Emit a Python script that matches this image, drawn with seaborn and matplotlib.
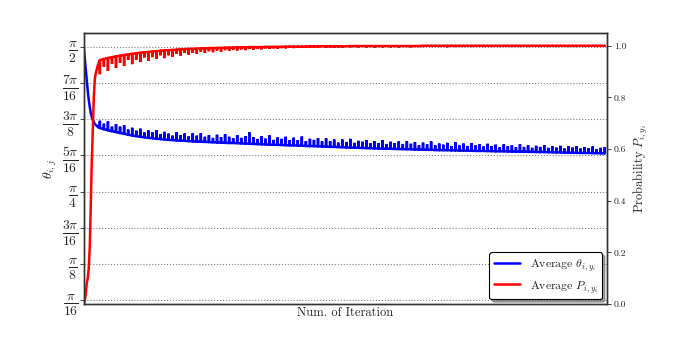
import numpy as np
import matplotlib
matplotlib.use('Agg')
import matplotlib.pyplot as plt
import seaborn as sns

# first iterations (one value per iteration)
theta_head = [1.571, 1.511, 1.446, 1.386, 1.332, 1.283, 1.245, 1.212,
              1.190, 1.174, 1.163, 1.152, 1.147, 1.142, 1.136, 1.133]
prob_head = [0.0, 0.01, 0.04, 0.08, 0.10, 0.14, 0.22, 0.38,
             0.55, 0.68, 0.80, 0.87, 0.895, 0.91, 0.925, 0.935]

# later iterations: baseline value and spike value every 4 iterations
theta_base = [1.130, 1.124, 1.118, 1.113, 1.108, 1.103, 1.099, 1.094, 1.090, 1.086,
              1.083, 1.080, 1.077, 1.075, 1.072, 1.070, 1.068, 1.066, 1.065, 1.063,
              1.062, 1.061, 1.059, 1.058, 1.057, 1.056, 1.055, 1.054, 1.053, 1.052,
              1.051, 1.050, 1.049, 1.049, 1.048, 1.047, 1.046, 1.045, 1.044, 1.043,
              1.042, 1.041, 1.040, 1.040, 1.039, 1.038, 1.037, 1.036, 1.036, 1.035,
              1.034, 1.033, 1.032, 1.032, 1.031, 1.030, 1.029, 1.028, 1.028, 1.027,
              1.026, 1.025, 1.024, 1.024, 1.023, 1.022, 1.021, 1.021, 1.020, 1.019,
              1.019, 1.018, 1.018, 1.017, 1.016, 1.016, 1.015, 1.015, 1.014, 1.013,
              1.013, 1.012, 1.012, 1.011, 1.010, 1.010, 1.010, 1.009, 1.009, 1.008,
              1.008, 1.007, 1.007, 1.006, 1.006, 1.006, 1.005, 1.005, 1.004, 1.004,
              1.004, 1.003, 1.003, 1.002, 1.002, 1.002, 1.001, 1.001, 1.000, 1.000,
              1.000, 0.999, 0.999, 0.998, 0.998, 0.997, 0.997, 0.996, 0.996, 0.995,
              0.995, 0.995, 0.994, 0.994, 0.993, 0.993]
theta_peak = [1.170, 1.154, 1.166, 1.138, 1.152, 1.138, 1.145, 1.122, 1.132, 1.116,
              1.127, 1.106, 1.117, 1.107, 1.118, 1.098, 1.110, 1.100, 1.089, 1.108,
              1.092, 1.101, 1.085, 1.102, 1.089, 1.102, 1.083, 1.092, 1.077, 1.094,
              1.081, 1.098, 1.083, 1.075, 1.092, 1.077, 1.086, 1.107, 1.080, 1.071,
              1.086, 1.073, 1.090, 1.066, 1.079, 1.072, 1.083, 1.064, 1.078, 1.065,
              1.084, 1.059, 1.072, 1.066, 1.075, 1.058, 1.075, 1.060, 1.068, 1.051,
              1.068, 1.055, 1.072, 1.050, 1.061, 1.056, 1.065, 1.049, 1.060, 1.049,
              1.065, 1.044, 1.056, 1.049, 1.058, 1.044, 1.059, 1.045, 1.054, 1.037,
              1.051, 1.042, 1.058, 1.037, 1.046, 1.040, 1.050, 1.033, 1.053, 1.036,
              1.046, 1.033, 1.049, 1.036, 1.042, 1.030, 1.045, 1.033, 1.040, 1.026,
              1.042, 1.031, 1.037, 1.026, 1.042, 1.028, 1.037, 1.023, 1.034, 1.028,
              1.038, 1.023, 1.031, 1.024, 1.034, 1.019, 1.031, 1.024, 1.032, 1.019,
              1.027, 1.021, 1.030, 1.016, 1.023, 1.027]
prob_base = [0.945, 0.949, 0.953, 0.956, 0.959, 0.962, 0.964, 0.967, 0.969, 0.971,
             0.973, 0.975, 0.976, 0.978, 0.979, 0.981, 0.982, 0.983, 0.984, 0.985,
             0.986, 0.987, 0.988, 0.988, 0.989, 0.990, 0.990, 0.991, 0.991, 0.992,
             0.992, 0.993, 0.993, 0.993, 0.994, 0.994, 0.994, 0.995, 0.995, 0.995,
             0.995, 0.996, 0.996, 0.996, 0.996, 0.996, 0.997, 0.997, 0.997, 0.997,
             0.997, 0.997, 0.998, 0.998, 0.998, 0.998, 0.998, 0.998, 0.998, 0.998,
             0.998, 0.998, 0.999, 0.999, 0.999, 0.999, 0.999, 0.999, 0.999, 0.999,
             0.999, 0.999, 0.999, 0.999, 0.999, 0.999, 0.999, 0.999, 0.999, 0.999,
             1.000, 1.000, 1.000, 1.000, 1.000, 1.000, 1.000, 1.000, 1.000, 1.000,
             1.000, 1.000, 1.000, 1.000, 1.000, 1.000, 1.000, 1.000, 1.000, 1.000,
             1.000, 1.000, 1.000, 1.000, 1.000, 1.000, 1.000, 1.000, 1.000, 1.000,
             1.000, 1.000, 1.000, 1.000, 1.000, 1.000, 1.000, 1.000, 1.000, 1.000,
             1.000, 1.000, 1.000, 1.000, 1.000, 1.000]
prob_dip = [0.890, 0.919, 0.903, 0.931, 0.914, 0.934, 0.922, 0.945, 0.929, 0.946,
            0.937, 0.955, 0.942, 0.956, 0.949, 0.963, 0.952, 0.963, 0.958, 0.969,
            0.962, 0.972, 0.966, 0.972, 0.969, 0.977, 0.972, 0.979, 0.975, 0.981,
            0.977, 0.983, 0.980, 0.984, 0.982, 0.986, 0.983, 0.988, 0.985, 0.988,
            0.986, 0.990, 0.988, 0.990, 0.989, 0.991, 0.990, 0.992, 0.991, 0.992,
            0.992, 0.993, 0.993, 0.994, 0.993, 0.995, 0.993, 0.994, 0.992, 0.994,
            0.993, 0.995, 0.994, 0.995, 0.994, 0.996, 0.994, 0.995, 0.993, 0.995,
            0.994, 0.996, 0.994, 0.995, 0.994, 0.996, 0.995, 0.994, 0.996, 0.995,
            0.995, 0.996, 0.995, 0.997, 0.995, 0.996, 0.994, 0.996, 0.995, 0.997,
            0.995, 0.996, 0.995, 0.997, 0.996, 0.995, 0.997, 0.995, 0.996, 0.995,
            0.997, 0.996, 0.995, 0.997, 0.995, 0.996, 0.995, 0.997, 0.996, 0.995,
            0.997, 0.995, 0.996, 0.995, 0.997, 0.996, 0.995, 0.997, 0.995, 0.996,
            0.995, 0.997, 0.996, 0.995, 0.997, 0.996]

theta_ticks = [np.pi/16, np.pi/8, 3*np.pi/16, np.pi/4, 5*np.pi/16, 3*np.pi/8, 7*np.pi/16, np.pi/2]
theta_labels = [r'$\frac{\pi}{16}$', r'$\frac{\pi}{8}$', r'$\frac{3\pi}{16}$', r'$\frac{\pi}{4}$',
                r'$\frac{5\pi}{16}$', r'$\frac{3\pi}{8}$', r'$\frac{7\pi}{16}$', r'$\frac{\pi}{2}$']
prob_ticks = [0.0, 0.2, 0.4, 0.6, 0.8, 1.0]


def build(head, base, spike):
    # each spike is a vertical excursion at a single iteration
    t = len(head) + 4*np.arange(len(base))
    xs = np.column_stack([t, t, t]).ravel()
    ys = np.column_stack([base, spike, base]).ravel()
    return np.concatenate([np.arange(len(head)), xs]), np.concatenate([head, ys])


x_theta, y_theta = build(theta_head, theta_base, theta_peak)
x_prob, y_prob = build(prob_head, prob_base, prob_dip)

sns.set_style('white')
plt.rcParams['font.family'] = ['cmr10', 'DejaVu Serif']
plt.rcParams['mathtext.fontset'] = 'cm'
plt.rcParams['axes.formatter.use_mathtext'] = True
plt.rcParams['axes.unicode_minus'] = False

fig = plt.figure(figsize=(6.75, 3.39), dpi=100)
ax = fig.add_axes([0.124, 0.103, 0.775, 0.800])
ax2 = ax.twinx()

sns.lineplot(x=x_theta, y=y_theta, ax=ax, color='#0000ff', lw=1.8, estimator=None, sort=False,
             solid_joinstyle='bevel', label=r'Average $\theta_{i,y_i}$', legend=False)
sns.lineplot(x=x_prob, y=y_prob, ax=ax2, color='#ff0000', lw=1.8, estimator=None, sort=False,
             solid_joinstyle='bevel', label=r'Average $P_{i,y_i}$', legend=False)

ax.set_xlim(0, 518)
ax.set_ylim(0.1746, 1.6469)
ax2.set_ylim(0, 1.05)
ax.set_yticks(theta_ticks)
ax.set_yticklabels(theta_labels, fontsize=14)
ax.set_xticks([])
ax2.set_yticks(prob_ticks)
ax2.set_yticklabels([f'{v:.1f}' for v in prob_ticks], fontsize=7)
ax.yaxis.grid(True, linestyle=':', color='gray', lw=0.8)
ax.tick_params(axis='y', length=3, width=0.6, direction='out', left=True, pad=1)
ax2.tick_params(axis='y', length=3, width=0.6, direction='out', right=True, pad=2)

for a in (ax, ax2):
    for s in a.spines.values():
        s.set_color('#333333')
        s.set_linewidth(1.0)

ax.set_xlabel('Num. of Iteration', fontsize=9, labelpad=2)
ax.set_ylabel(r'$\theta_{i,j}$', fontsize=10, labelpad=2)
ax2.set_ylabel(r'Probability $P_{i,y_i}$', fontsize=9, labelpad=4)

h1, l1 = ax.get_legend_handles_labels()
h2, l2 = ax2.get_legend_handles_labels()
leg = ax2.legend(h1 + h2, l1 + l2, loc='lower right', fontsize=8.5, fancybox=True,
                 shadow=True, frameon=True, borderaxespad=0.4, handlelength=2.2)
leg.get_frame().set_edgecolor('black')
leg.get_frame().set_linewidth(0.8)

plt.savefig('out.png', dpi=100)
plt.close()
